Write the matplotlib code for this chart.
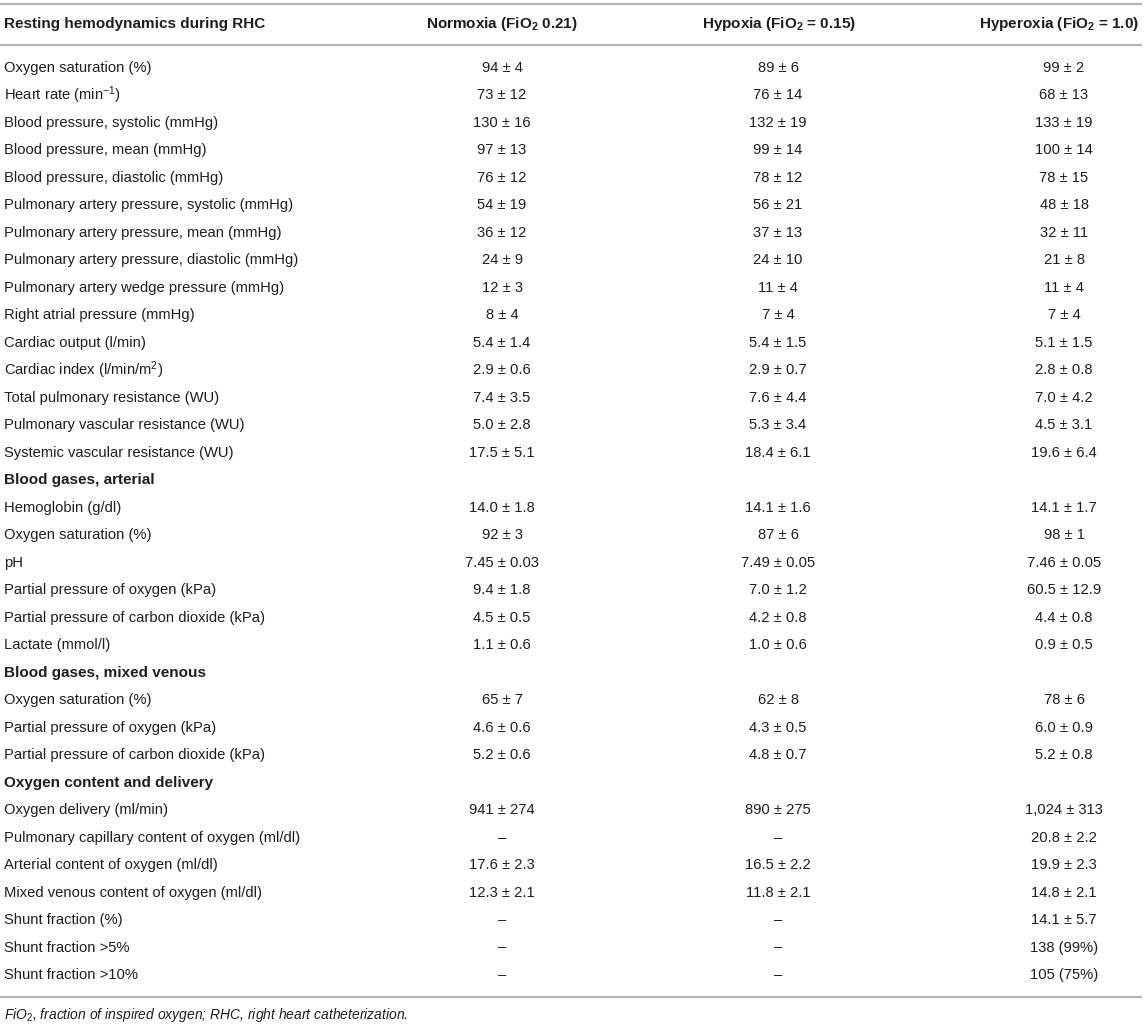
import matplotlib
matplotlib.use("Agg")
import matplotlib.pyplot as plt

plt.rcParams['font.family'] = ['Liberation Sans', 'DejaVu Sans']
plt.rcParams['mathtext.fontset'] = 'custom'
plt.rcParams['mathtext.rm'] = 'Liberation Sans'
plt.rcParams['mathtext.it'] = 'Liberation Sans:italic'
plt.rcParams['mathtext.bf'] = 'Liberation Sans:bold'

header = ["Resting hemodynamics during RHC",
          r"Normoxia (FiO$_\mathbf{2}$ 0.21)",
          r"Hypoxia (FiO$_\mathbf{2}$ = 0.15)",
          r"Hyperoxia (FiO$_\mathbf{2}$ = 1.0)"]

row_labels = [
    "Oxygen saturation (%)",
    r"Heart rate (min$^{-1}$)",
    "Blood pressure, systolic (mmHg)",
    "Blood pressure, mean (mmHg)",
    "Blood pressure, diastolic (mmHg)",
    "Pulmonary artery pressure, systolic (mmHg)",
    "Pulmonary artery pressure, mean (mmHg)",
    "Pulmonary artery pressure, diastolic (mmHg)",
    "Pulmonary artery wedge pressure (mmHg)",
    "Right atrial pressure (mmHg)",
    "Cardiac output (l/min)",
    r"Cardiac index (l/min/m$^2$)",
    "Total pulmonary resistance (WU)",
    "Pulmonary vascular resistance (WU)",
    "Systemic vascular resistance (WU)",
    "Blood gases, arterial",
    "Hemoglobin (g/dl)",
    "Oxygen saturation (%)",
    "pH",
    "Partial pressure of oxygen (kPa)",
    "Partial pressure of carbon dioxide (kPa)",
    "Lactate (mmol/l)",
    "Blood gases, mixed venous",
    "Oxygen saturation (%)",
    "Partial pressure of oxygen (kPa)",
    "Partial pressure of carbon dioxide (kPa)",
    "Oxygen content and delivery",
    "Oxygen delivery (ml/min)",
    "Pulmonary capillary content of oxygen (ml/dl)",
    "Arterial content of oxygen (ml/dl)",
    "Mixed venous content of oxygen (ml/dl)",
    "Shunt fraction (%)",
    "Shunt fraction >5%",
    "Shunt fraction >10%",
]

section_rows = ["Blood gases, arterial", "Blood gases, mixed venous", "Oxygen content and delivery"]

normoxia = ["94 ± 4", "73 ± 12", "130 ± 16", "97 ± 13", "76 ± 12", "54 ± 19", "36 ± 12", "24 ± 9",
            "12 ± 3", "8 ± 4", "5.4 ± 1.4", "2.9 ± 0.6", "7.4 ± 3.5", "5.0 ± 2.8", "17.5 ± 5.1",
            "", "14.0 ± 1.8", "92 ± 3", "7.45 ± 0.03", "9.4 ± 1.8", "4.5 ± 0.5", "1.1 ± 0.6",
            "", "65 ± 7", "4.6 ± 0.6", "5.2 ± 0.6",
            "", "941 ± 274", "–", "17.6 ± 2.3", "12.3 ± 2.1", "–", "–", "–"]
hypoxia = ["89 ± 6", "76 ± 14", "132 ± 19", "99 ± 14", "78 ± 12", "56 ± 21", "37 ± 13", "24 ± 10",
           "11 ± 4", "7 ± 4", "5.4 ± 1.5", "2.9 ± 0.7", "7.6 ± 4.4", "5.3 ± 3.4", "18.4 ± 6.1",
           "", "14.1 ± 1.6", "87 ± 6", "7.49 ± 0.05", "7.0 ± 1.2", "4.2 ± 0.8", "1.0 ± 0.6",
           "", "62 ± 8", "4.3 ± 0.5", "4.8 ± 0.7",
           "", "890 ± 275", "–", "16.5 ± 2.2", "11.8 ± 2.1", "–", "–", "–"]
hyperoxia = ["99 ± 2", "68 ± 13", "133 ± 19", "100 ± 14", "78 ± 15", "48 ± 18", "32 ± 11", "21 ± 8",
             "11 ± 4", "7 ± 4", "5.1 ± 1.5", "2.8 ± 0.8", "7.0 ± 4.2", "4.5 ± 3.1", "19.6 ± 6.4",
             "", "14.1 ± 1.7", "98 ± 1", "7.46 ± 0.05", "60.5 ± 12.9", "4.4 ± 0.8", "0.9 ± 0.5",
             "", "78 ± 6", "6.0 ± 0.9", "5.2 ± 0.8",
             "", "1,024 ± 313", "20.8 ± 2.2", "19.9 ± 2.3", "14.8 ± 2.1", "14.1 ± 5.7", "138 (99%)", "105 (75%)"]

footnote = r"$\it{FiO}_{2}$, fraction of inspired oxygen; RHC, right heart catheterization."

W, H = 1146, 1026
fig = plt.figure(figsize=(W / 100, H / 100), dpi=100)
ax = fig.add_axes([0, 0, 1, 1])
ax.set_xlim(0, W)
ax.set_ylim(H, 0)
ax.axis('off')

txt = '#1e1e1e'
line_c = '#b4b4b4'
fs = 10.6
fs_b = 11
left_x = 4
head_x = [502, 779, 1059]
val_x = [502, 778, 1064]

for yl in (4, 45, 997):
    ax.plot([0, 1142], [yl, yl], color=line_c, lw=1.6, solid_capstyle='butt')

hy = 24
ax.text(left_x, hy, header[0], ha='left', va='center', fontsize=fs_b, fontweight='bold', color=txt)
for i in range(1, 4):
    ax.text(head_x[i - 1], hy, header[i], ha='center', va='center', fontsize=fs_b,
            fontweight='bold', color=txt)

y0 = 68
dy = (975 - 68) / 33
for i, lab in enumerate(row_labels):
    y = y0 + i * dy
    bold = lab in section_rows
    ax.text(left_x, y, lab, ha='left', va='center', fontsize=fs_b if bold else fs,
            fontweight='bold' if bold else 'normal', color=txt)
    for x, vals in zip(val_x, [normoxia, hypoxia, hyperoxia]):
        if vals[i]:
            ax.text(x, y, vals[i], ha='center', va='center', fontsize=fs, color=txt)

ax.text(left_x, 1015, footnote, ha='left', va='center', fontsize=10,
        style='italic', color=txt)

fig.savefig('out.png', dpi=100, facecolor='white')
